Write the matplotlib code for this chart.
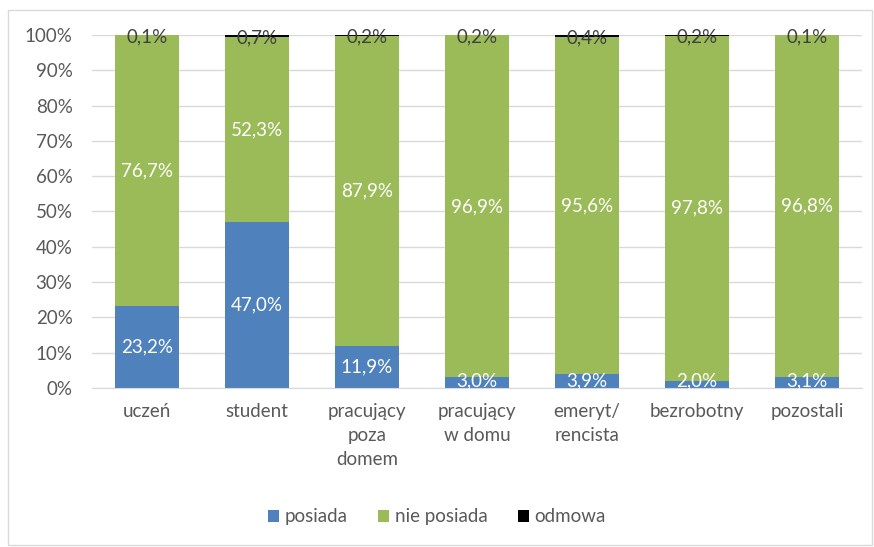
import numpy as np
import matplotlib.pyplot as plt
from matplotlib.patches import Rectangle

categories = ['uczeń', 'student', 'pracujący\npoza\ndomem', 'pracujący\nw domu',
              'emeryt/\nrencista', 'bezrobotny', 'pozostali']
posiada = [23.2, 47.0, 11.9, 3.0, 3.9, 2.0, 3.1]
nie_posiada = [76.7, 52.3, 87.9, 96.9, 95.6, 97.8, 96.8]
odmowa = [0.1, 0.7, 0.2, 0.2, 0.4, 0.2, 0.1]
series_names = ['posiada', 'nie posiada', 'odmowa']

plt.rcParams['font.family'] = ['Lato', 'DejaVu Sans']
text_col = '#595959'
fs = 13.5

fig = plt.figure(figsize=(8.74, 5.47), dpi=100)
ax = fig.add_axes([0.1053, 0.2907, 0.8810, 0.6453])

x = np.arange(len(categories))
w = 0.59
p = np.array(posiada)
n = np.array(nie_posiada)
o = np.array(odmowa)

b1 = ax.bar(x, p, w, color='#4F81BD', label=series_names[0], zorder=2)
b2 = ax.bar(x, n, w, bottom=p, color='#9BBB59', label=series_names[1], zorder=2)
b3 = ax.bar(x, o, w, bottom=p + n, color='#000000', label=series_names[2], zorder=2)

def fmt(v):
    return ('%.1f%%' % v).replace('.', ',')

for i in range(len(x)):
    ax.text(x[i], max(p[i] / 2, 1.9), fmt(p[i]), ha='center', va='center',
            color='white', fontsize=fs, zorder=3)
    ax.text(x[i], p[i] + n[i] / 2, fmt(n[i]), ha='center', va='center',
            color='white', fontsize=fs, zorder=3)
    ax.text(x[i], p[i] + n[i] + o[i] / 2 - 0.5, fmt(o[i]), ha='center', va='center',
            color='#404040', fontsize=fs, zorder=3)

ax.set_xlim(-0.5, len(categories) - 0.5)
ax.set_ylim(0, 100)
ax.set_yticks(np.arange(0, 101, 10))
ax.set_yticklabels(['%d%%' % v for v in range(0, 101, 10)])
ax.set_xticks(x)
ax.set_xticklabels(categories, linespacing=1.5)
ax.tick_params(axis='both', length=0, labelsize=fs, colors=text_col)
ax.tick_params(axis='x', pad=11)
ax.tick_params(axis='y', pad=14)
ax.grid(axis='y', color='#D9D9D9', linewidth=1, zorder=0)
for s in ['top', 'right', 'left']:
    ax.spines[s].set_visible(False)
ax.spines['bottom'].set_color('#D9D9D9')

leg = fig.legend(handles=[b1, b2, b3], loc='center', bbox_to_anchor=(0.5, 0.055),
                 ncol=3, frameon=False, fontsize=fs, handlelength=0.6,
                 handleheight=0.6, handletextpad=0.3, columnspacing=1.6)
for t in leg.get_texts():
    t.set_color(text_col)

fig.patches.append(Rectangle((8 / 874, 2 / 547), 864 / 874, 535 / 547,
                             transform=fig.transFigure, fill=False,
                             edgecolor='#D9D9D9', linewidth=1))

fig.savefig('out.png', dpi=100)
